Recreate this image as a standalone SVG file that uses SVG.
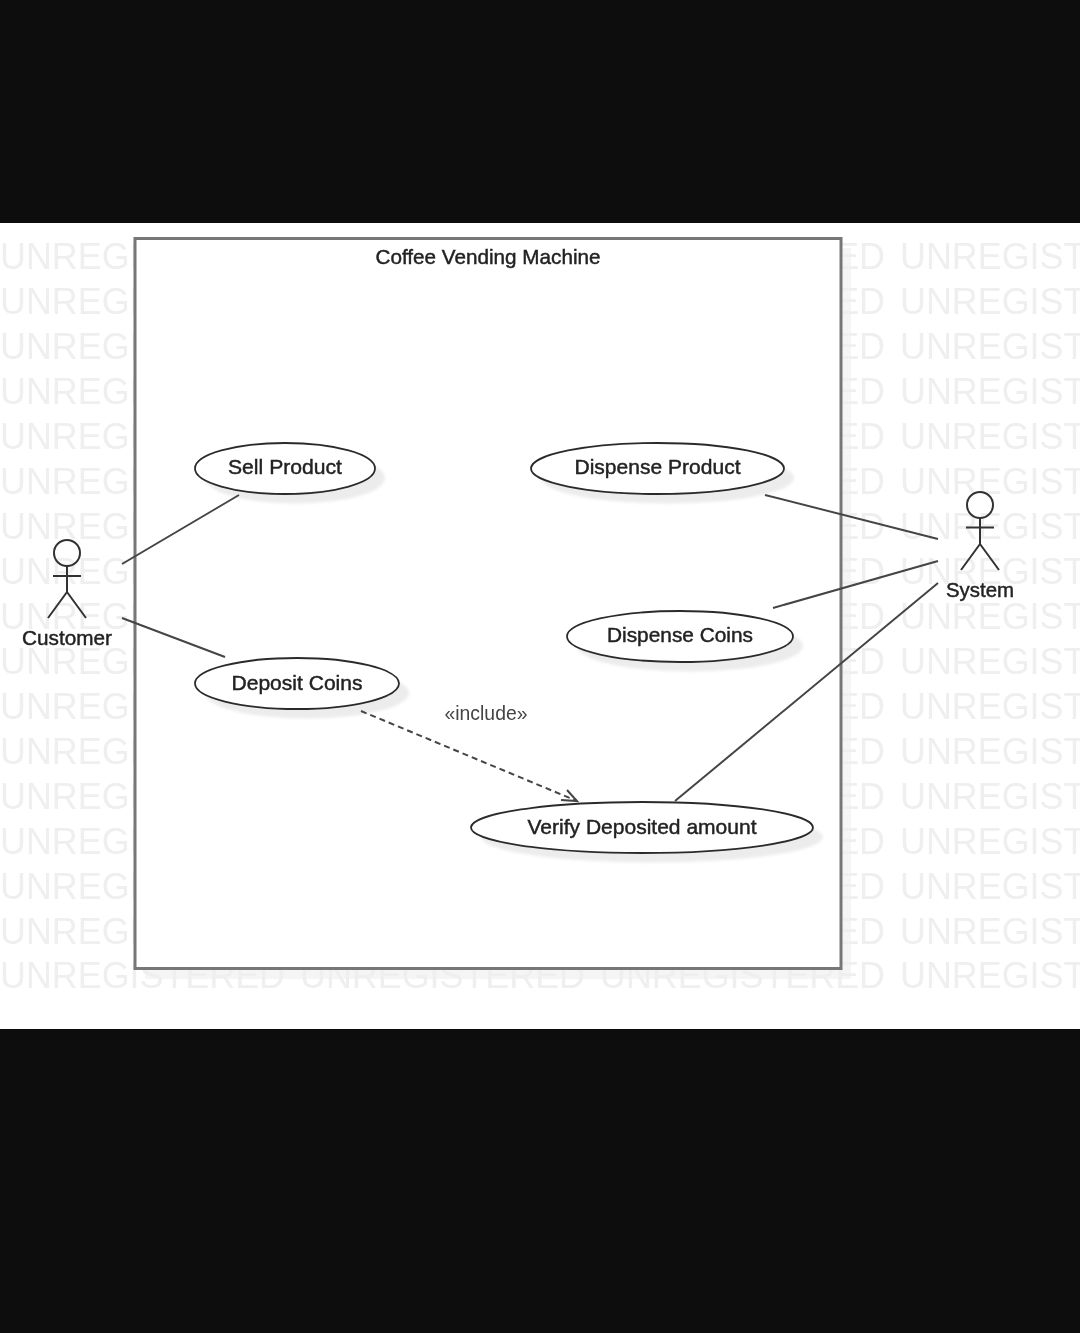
<svg xmlns="http://www.w3.org/2000/svg" width="1080" height="1333" viewBox="0 0 1080 1333">
<defs>
<filter id="soft" x="-5%" y="-5%" width="110%" height="110%"><feGaussianBlur stdDeviation="0.5"/></filter>
<filter id="shblur" x="-10%" y="-10%" width="120%" height="120%"><feGaussianBlur stdDeviation="1.5"/></filter>
<g id="wm"><text class="wm" x="0" y="0" textLength="285" lengthAdjust="spacingAndGlyphs">UNREGISTERED</text><text class="wm" x="300" y="0" textLength="285" lengthAdjust="spacingAndGlyphs">UNREGISTERED</text><text class="wm" x="600" y="0" textLength="285" lengthAdjust="spacingAndGlyphs">UNREGISTERED</text><text class="wm" x="900" y="0" textLength="285" lengthAdjust="spacingAndGlyphs">UNREGISTERED</text></g>
</defs>
<style>
.wm{font-family:"Liberation Sans",Arial,sans-serif;font-size:37px;fill:#efefef}
.uc{fill:#fff;stroke:#2c2c2c;stroke-width:1.800}
.sh{fill:#ececec;filter:url(#shblur)}
.lb{font-family:"Liberation Sans",Arial,sans-serif;font-size:21px;fill:#222;stroke:#222;stroke-width:.45px;text-anchor:middle}
.ln{fill:none;stroke:#444;stroke-width:2}
.ac{fill:none;stroke:#333;stroke-width:2}
</style>
<rect width="1080" height="1333" fill="#fff"/>
<g filter="url(#soft)">
<rect x="0" y="0" width="1080" height="223" fill="#0e0e0e"/>
<rect x="0" y="1029" width="1080" height="304" fill="#0e0e0e"/>
<rect x="145" y="248" width="706" height="731" fill="#f5f5f5"/>
<g id="watermark">
<use href="#wm" y="269"/><use href="#wm" y="314"/><use href="#wm" y="359"/><use href="#wm" y="404"/>
<use href="#wm" y="449"/><use href="#wm" y="494"/><use href="#wm" y="539"/><use href="#wm" y="584"/>
<use href="#wm" y="629"/><use href="#wm" y="674"/><use href="#wm" y="719"/><use href="#wm" y="764"/>
<use href="#wm" y="809"/><use href="#wm" y="854"/><use href="#wm" y="899"/><use href="#wm" y="944"/><use href="#wm" y="988"/>
</g>
<g id="boundary">
<rect x="135" y="238.500" width="706" height="730" fill="#fff" stroke="#777" stroke-width="3"/>
<text class="lb" x="488" y="264" textLength="225" lengthAdjust="spacingAndGlyphs">Coffee Vending Machine</text>
</g>
<g id="uc-sell"><ellipse class="sh" cx="295" cy="478" rx="90" ry="25.500"/><ellipse class="uc" cx="285" cy="468.500" rx="90" ry="25.500"/><text class="lb" x="285" y="474" textLength="114" lengthAdjust="spacingAndGlyphs">Sell Product</text></g>
<g id="uc-dispense-product"><ellipse class="sh" cx="667.500" cy="478" rx="126.500" ry="25.500"/><ellipse class="uc" cx="657.500" cy="468.500" rx="126.500" ry="25.500"/><text class="lb" x="657.500" y="474" textLength="166" lengthAdjust="spacingAndGlyphs">Dispense Product</text></g>
<g id="uc-dispense-coins"><ellipse class="sh" cx="690" cy="646" rx="113" ry="25.500"/><ellipse class="uc" cx="680" cy="636.500" rx="113" ry="25.500"/><text class="lb" x="680" y="642" textLength="146" lengthAdjust="spacingAndGlyphs">Dispense Coins</text></g>
<g id="uc-deposit"><ellipse class="sh" cx="307" cy="693" rx="102" ry="25.500"/><ellipse class="uc" cx="297" cy="683.500" rx="102" ry="25.500"/><text class="lb" x="297" y="690" textLength="131" lengthAdjust="spacingAndGlyphs">Deposit Coins</text></g>
<g id="uc-verify"><ellipse class="sh" cx="652" cy="837" rx="171" ry="25.500"/><ellipse class="uc" cx="642" cy="827.500" rx="171" ry="25.500"/><text class="lb" x="642" y="834" textLength="229" lengthAdjust="spacingAndGlyphs">Verify Deposited amount</text></g>
<g id="connectors">
<path class="ln" d="M122 564L239 495"/>
<path class="ln" d="M122 618L225 657"/>
<path class="ln" d="M765 495L938 539"/>
<path class="ln" d="M773 608L938 561"/>
<path class="ln" d="M675 801L938 583"/>
<path class="ln" d="M361 711L577 801" stroke-dasharray="6 4"/>
<path class="ln" d="M561 800L577 801L567 790"/>
<text class="lb" x="486" y="720" style="stroke:none;fill:#444" textLength="83" lengthAdjust="spacingAndGlyphs">«include»</text>
</g>
<g id="actor-customer">
<circle class="ac" cx="67" cy="553" r="13"/>
<path class="ac" d="M53 576H81M67 566V592L48 618M67 592L86 618"/>
<text class="lb" x="67" y="645" textLength="90" lengthAdjust="spacingAndGlyphs">Customer</text>
</g>
<g id="actor-system">
<circle class="ac" cx="980" cy="505" r="13"/>
<path class="ac" d="M966 527.500H994M980 518V544L961 570M980 544L999 570"/>
<text class="lb" x="980" y="597" textLength="68" lengthAdjust="spacingAndGlyphs">System</text>
</g>
</g>
</svg>
